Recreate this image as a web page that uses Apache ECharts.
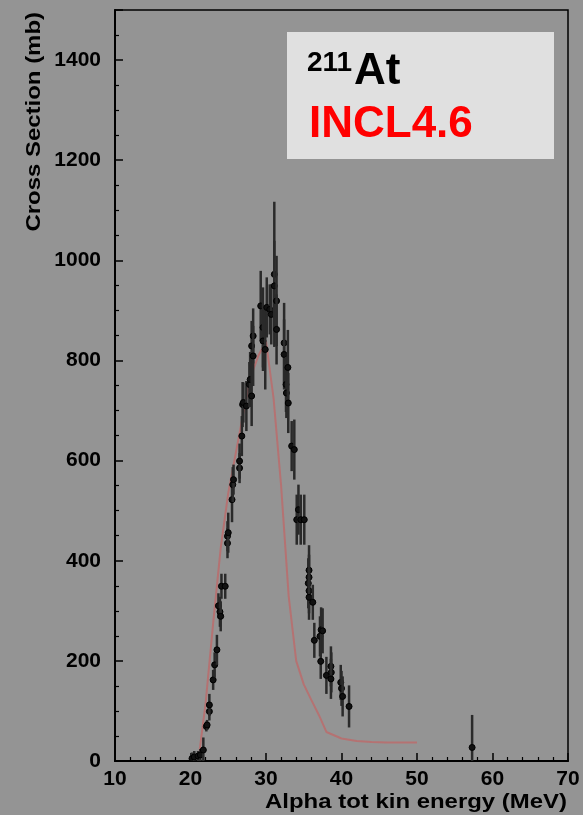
<!DOCTYPE html>
<html>
<head>
<meta charset="utf-8">
<script src="https://cdn.jsdelivr.net/npm/echarts/dist/echarts.min.js"></script>
<style>
html,body{margin:0;padding:0;background:#949494;}
#chart{width:583px;height:815px;}
</style>
</head>
<body>
<div id="chart"></div>
<script>
// Experimental data: alpha total kinetic energy (MeV), cross section (mb), error (mb)
const expX = [20.2, 20.5, 21.0, 21.3, 21.7, 22.1, 22.2, 22.5, 22.5, 23.0, 23.2, 23.5, 23.7, 23.9, 24.0, 24.1, 24.6, 24.9, 24.9, 25.0, 25.5, 25.6, 25.7, 26.5, 26.5, 26.8, 26.9, 27.0, 27.4, 27.8, 27.9, 28.1, 28.1, 28.3, 28.3, 29.3, 29.6, 29.6, 29.9, 30.1, 30.5, 30.7, 31.1, 31.1, 31.4, 31.4, 32.4, 32.4, 32.65, 32.7, 32.9, 32.95, 33.4, 33.75, 34.07, 34.3, 34.6, 35.07, 35.6, 35.7, 35.7, 35.7, 35.7, 36.2, 36.4, 37.15, 37.25, 37.3, 37.5, 38.0, 38.6, 38.65, 38.6, 39.9, 40.0, 40.15, 41.0, 57.3];
const expY = [5, 8, 10, 12, 22, 69, 72, 99, 112, 162, 192, 222, 310, 298, 289, 349, 349, 435, 449, 456, 522, 552, 562, 585, 599, 649, 712, 716, 709, 752, 762, 729, 829, 849, 809, 909, 866, 839, 822, 906, 902, 892, 972, 949, 919, 862, 835, 812, 752, 735, 786, 715, 629, 622, 482, 502, 482, 482, 355, 381, 367, 340, 327, 317, 241, 249, 199, 262, 260, 171, 189, 177, 164, 157, 145, 129, 109, 27];
const expErr = [12, 12, 10, 12, 25, 10, 10, 18, 22, 20, 25, 30, 25, 30, 30, 25, 25, 30, 30, 40, 45, 35, 30, 30, 35, 40, 45, 40, 50, 45, 55, 60, 50, 55, 60, 70, 80, 60, 80, 60, 50, 60, 145, 90, 90, 70, 80, 70, 55, 50, 75, 60, 50, 60, 50, 50, 50, 50, 50, 50, 45, 45, 45, 35, 35, 40, 35, 45, 45, 37, 40, 40, 40, 35, 35, 40, 42, 65];

// INCL4.6 model curve
const modelX = [21.2, 22, 23, 24, 25, 26, 27, 28, 29, 30, 31, 32, 33, 34, 35, 36, 37, 38, 40, 42, 44, 46, 48, 50];
const modelY = [20, 115, 275, 425, 535, 615, 695, 768, 810, 838, 725, 550, 330, 200, 153, 122, 92, 58, 45, 40, 38, 37, 37, 37];

// Axis settings
const xTicks = [10, 20, 30, 40, 50, 60, 70];
const yTicks = [0, 200, 400, 600, 800, 1000, 1200, 1400];

const FONT = "'Liberation Sans', Arial, Helvetica, sans-serif";

const chart = echarts.init(document.getElementById('chart'), null, {renderer: 'canvas'});

const expData = expX.map((x, i) => [x, expY[i], expErr[i]]);
const modelData = modelX.map((x, i) => [x, modelY[i]]);

const option = {
  backgroundColor: '#949494',
  animation: false,
  grid: {
    left: 115, right: 15, top: 10, bottom: 54,
    show: true, borderColor: '#000', borderWidth: 1.5, backgroundColor: 'transparent'
  },
  xAxis: {
    type: 'value', min: xTicks[0], max: xTicks[xTicks.length - 1], interval: 10,
    axisLine: {show: true, onZero: false, lineStyle: {color: '#000', width: 2}},
    axisTick: {show: true, inside: true, length: 8, lineStyle: {color: '#000', width: 1.5}},
    minorTick: {show: true, splitNumber: 5, length: 4, lineStyle: {color: '#000', width: 1.2}},
    splitLine: {show: false},
    axisLabel: {color: '#000', fontSize: 21, fontWeight: 'bold', fontFamily: FONT, margin: 8}
  },
  yAxis: {
    type: 'value', min: yTicks[0], max: 1500, interval: 200,
    axisLine: {show: true, onZero: false, lineStyle: {color: '#000', width: 2}},
    axisTick: {show: true, inside: true, length: 8, lineStyle: {color: '#000', width: 1.5}},
    minorTick: {show: true, splitNumber: 4, length: 4, lineStyle: {color: '#000', width: 1.2}},
    splitLine: {show: false},
    axisLabel: {
      color: '#000', fontSize: 21, fontWeight: 'bold', fontFamily: FONT, margin: 14,
      formatter: v => (yTicks.indexOf(v) >= 0 ? String(v) : '')
    }
  },
  series: [
    {
      type: 'line', data: modelData, showSymbol: false, z: 2,
      lineStyle: {color: '#b57272', width: 2}
    },
    {
      type: 'custom', data: expData, z: 3, clip: true,
      renderItem: function (params, api) {
        const x = api.value(0), y = api.value(1), e = api.value(2);
        const p = api.coord([x, y]);
        const t = api.coord([x, y + e]);
        const b = api.coord([x, Math.max(y - e, 0)]);
        return {
          type: 'group',
          children: [
            {type: 'line', shape: {x1: p[0], y1: t[1], x2: p[0], y2: b[1]},
             style: {stroke: '#2a2a2a', lineWidth: 2.5}},
            {type: 'circle', shape: {cx: p[0], cy: p[1], r: 3},
             style: {fill: '#111', stroke: '#000', lineWidth: 1}}
          ]
        };
      }
    }
  ],
  graphic: [
    {type: 'rect', shape: {x: 287, y: 32, width: 267, height: 127}, style: {fill: '#e0e0e0'}, z: 10},
    {type: 'text', x: 307, y: 63.5, z: 11,
     style: {text: '211', fill: '#000', font: "bold 28px " + FONT, align: 'left', verticalAlign: 'middle'}},
    {type: 'text', x: 354, y: 72, z: 11,
     style: {text: 'At', fill: '#000', font: "bold 44px " + FONT, align: 'left', verticalAlign: 'middle'}},
    {type: 'text', x: 309, y: 125, z: 11,
     style: {text: 'INCL4.6', fill: '#ff0000', font: "bold 44px " + FONT, align: 'left', verticalAlign: 'middle'}},
    {type: 'text', x: 567, y: 802, scaleX: 1.14, z: 11,
     style: {text: 'Alpha tot kin energy (MeV)', fill: '#000', font: "bold 21px " + FONT, align: 'right', verticalAlign: 'middle'}},
    {type: 'text', x: 34, y: 12, rotation: Math.PI / 2, scaleX: 1.14, z: 11,
     style: {text: 'Cross Section (mb)', fill: '#000', font: "bold 21px " + FONT, align: 'right', verticalAlign: 'middle'}}
  ]
};

chart.setOption(option);
</script>
</body>
</html>
